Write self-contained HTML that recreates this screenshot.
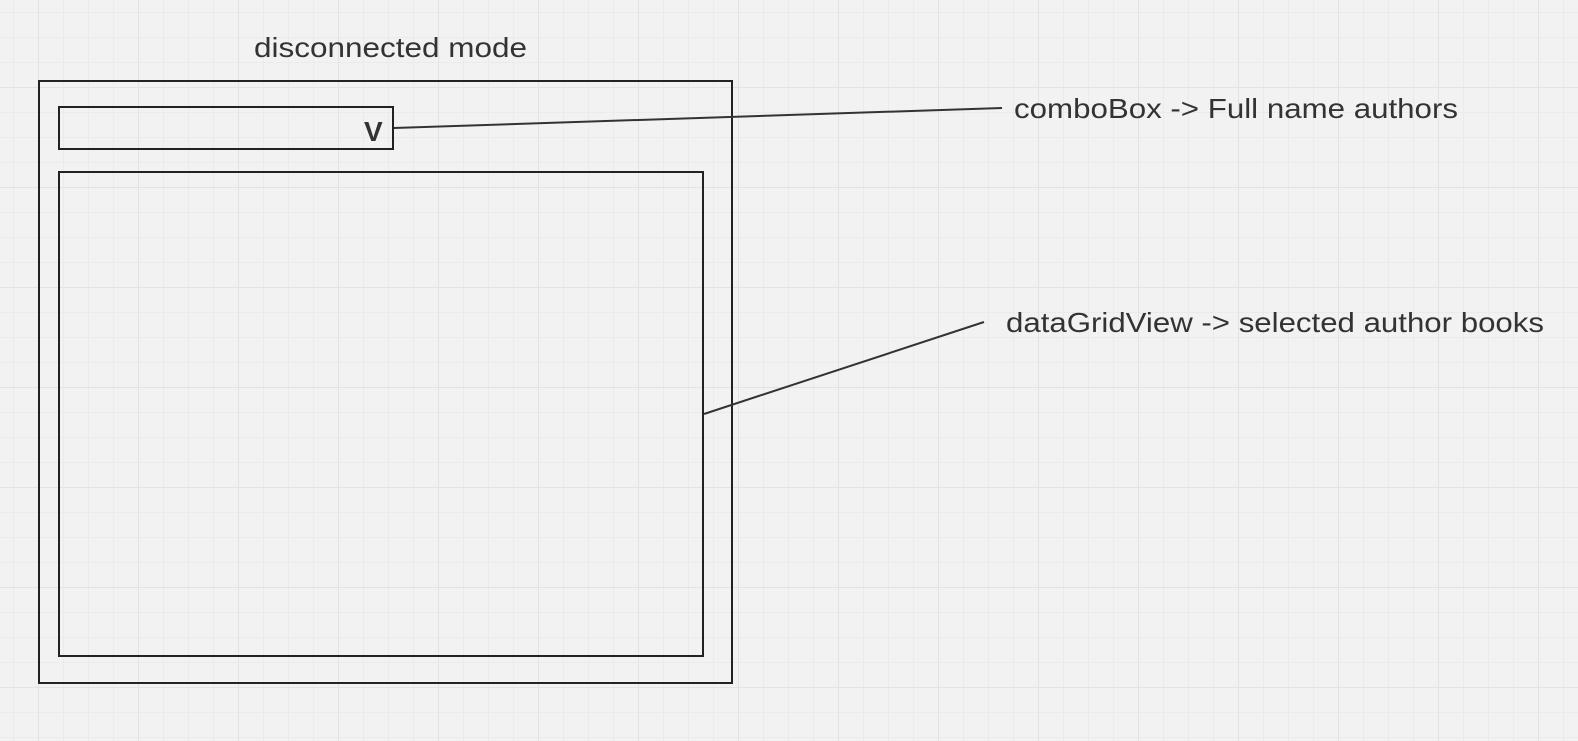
<!DOCTYPE html>
<html><head><style>
html,body{margin:0;padding:0;}
body{width:1578px;height:741px;overflow:hidden;background-color:#f2f2f2;
background-image:
linear-gradient(to right,#e3e3e3 1px,transparent 1px),
linear-gradient(to bottom,#e3e3e3 1px,transparent 1px),
linear-gradient(to right,#ebebeb 1px,transparent 1px),
linear-gradient(to bottom,#ebebeb 1px,transparent 1px);
background-size:100px 100px,100px 100px,25px 25px,25px 25px;
background-position:38px 0,0 87px,13px 0,0 12px;}
svg{position:absolute;left:0;top:0;}
</style></head><body>
<svg width="1578" height="741" xmlns="http://www.w3.org/2000/svg">
<g fill="none" stroke="#222" stroke-width="2">
<rect x="39" y="81" width="693" height="602"/>
<rect x="59" y="107" width="334" height="42"/>
<rect x="59" y="172" width="644" height="484"/>
</g>
<g stroke="#333" stroke-width="2">
<line x1="394" y1="128" x2="1002" y2="108"/>
<line x1="704" y1="414" x2="984" y2="322"/>
</g>
<g font-family="Liberation Sans, sans-serif" fill="#333" font-size="28">
<text x="254" y="57" textLength="273" lengthAdjust="spacingAndGlyphs">disconnected mode</text>
<text x="1014" y="118" textLength="444" lengthAdjust="spacingAndGlyphs">comboBox -&gt; Full name authors</text>
<text x="1006" y="332" textLength="538" lengthAdjust="spacingAndGlyphs">dataGridView -&gt; selected author books</text>
<text x="364" y="141" font-weight="bold" font-size="28">V</text>
</g>
</svg>
</body></html>
